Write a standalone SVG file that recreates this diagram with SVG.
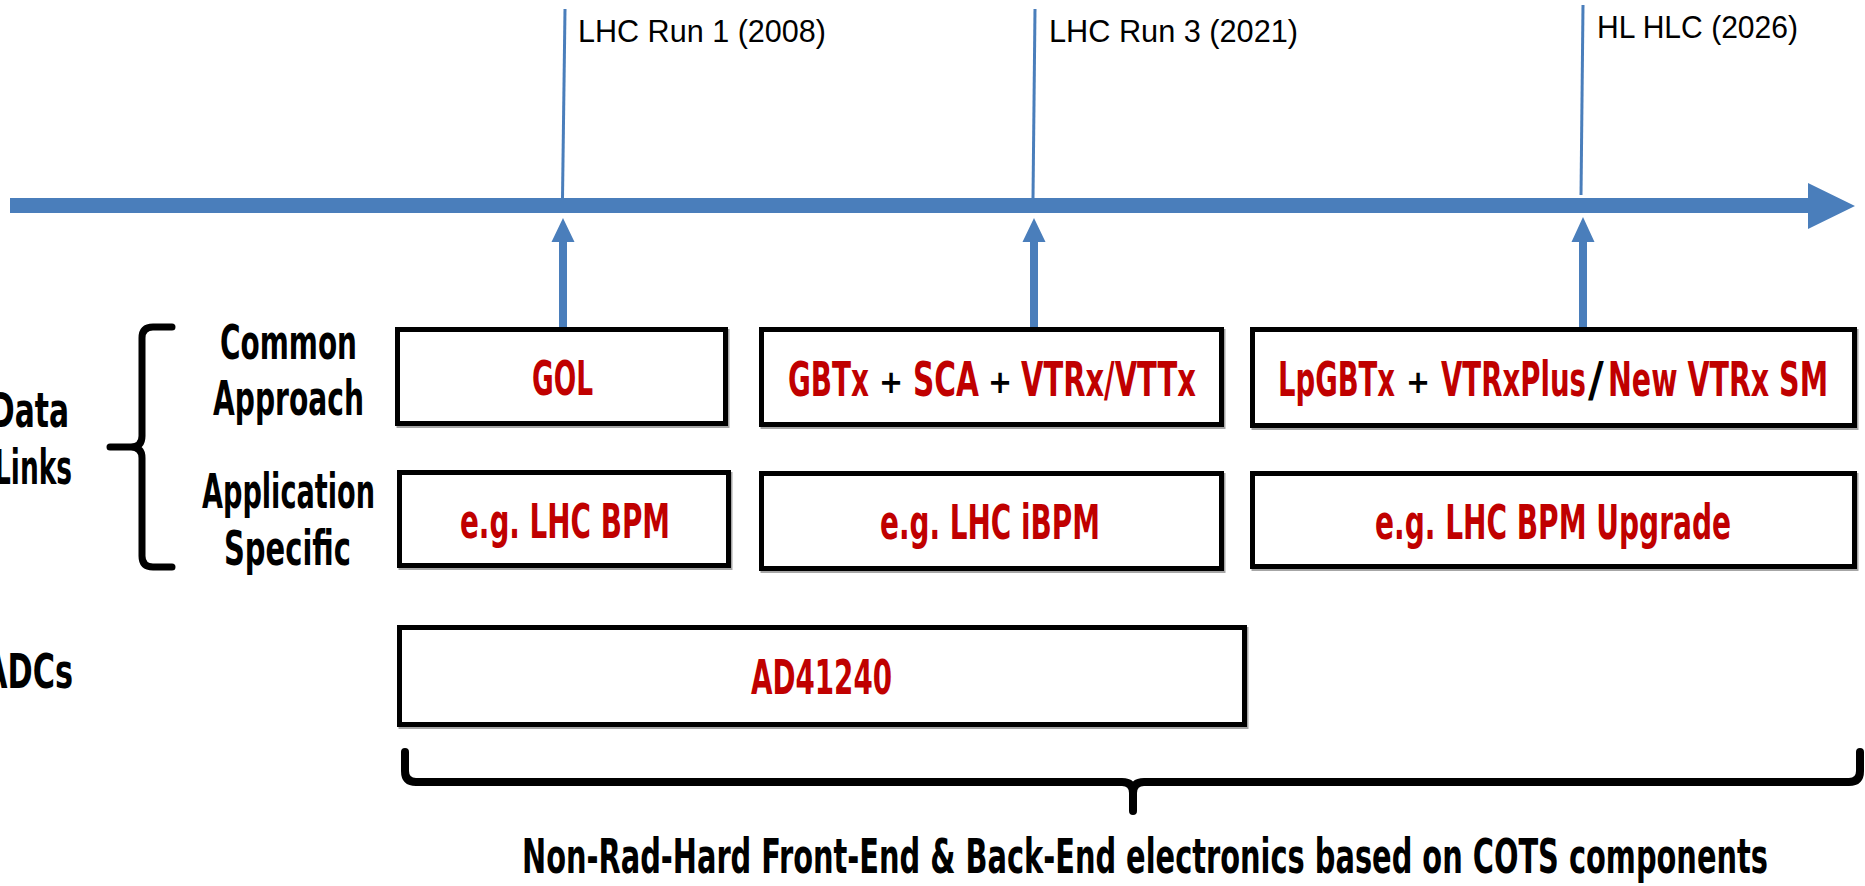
<svg xmlns="http://www.w3.org/2000/svg" width="1865" height="886" viewBox="0 0 1865 886">
<style>
.lab{font-family:"DejaVu Sans Condensed","DejaVu Sans",sans-serif;font-stretch:condensed;font-weight:bold;font-size:48px;fill:#000}
.red{fill:#C00000}
.mid{text-anchor:middle}
.plus{font-size:32px}
.top{font-family:"Liberation Sans","Open Sans",sans-serif;font-size:31px;fill:#000}
.box{fill:#fff;stroke:#000;stroke-width:5}
.shadow{fill:none;stroke:#a6a6a6;stroke-width:5}
.tick{stroke:#4A7EBB;stroke-width:3;fill:none}
.shaft{fill:#4A7EBB}
.brace{fill:none;stroke:#000;stroke-linecap:round;stroke-linejoin:round}
</style>
<rect width="1865" height="886" fill="#fff"/>

<g id="timeline">
  <path d="M10,198 H1808 V183 L1855,206 L1808,229 V213 H10 Z" fill="#4A7EBB"/>
</g>

<g id="connectors">
  <line class="tick" x1="565" y1="9" x2="562.5" y2="198"/>
  <line class="tick" x1="1035" y1="9" x2="1033" y2="198"/>
  <line class="tick" x1="1583" y1="5" x2="1581" y2="195"/>
  <path class="shaft" d="M559,327 V242 H551.5 L563,218 L574.5,242 H567 V327 Z"/>
  <path class="shaft" d="M1030,327 V242 H1022.5 L1034,218 L1045.5,242 H1038 V327 Z"/>
  <path class="shaft" d="M1579,327 V242 H1571.5 L1583,217 L1594.5,242 H1587 V327 Z"/>
</g>

<g id="labels-top">
  <text class="top" x="578" y="42" textLength="248" lengthAdjust="spacingAndGlyphs">LHC Run 1 (2008)</text>
  <text class="top" x="1049" y="42" textLength="249" lengthAdjust="spacingAndGlyphs">LHC Run 3 (2021)</text>
  <text class="top" x="1597" y="38" textLength="201" lengthAdjust="spacingAndGlyphs">HL HLC (2026)</text>
</g>

<g id="side-labels">
  <text class="lab" x="-10" y="427" textLength="79" lengthAdjust="spacingAndGlyphs">Data</text>
  <text class="lab" x="-6" y="484" textLength="78" lengthAdjust="spacingAndGlyphs">Links</text>
  <text class="lab" x="-16" y="688" textLength="89" lengthAdjust="spacingAndGlyphs">ADCs</text>
  <text class="lab" x="220" y="359" textLength="137" lengthAdjust="spacingAndGlyphs">Common</text>
  <text class="lab" x="213" y="415" textLength="151" lengthAdjust="spacingAndGlyphs">Approach</text>
  <text class="lab" x="202" y="508" textLength="173" lengthAdjust="spacingAndGlyphs">Application</text>
  <text class="lab" x="224" y="565" textLength="127" lengthAdjust="spacingAndGlyphs">Specific</text>
</g>

<g id="brace-left">
  <path class="brace" stroke-width="7" d="M172,327 H153 Q142,327 142,338 V436 Q142,447 131,447 H110 M131,447 Q142,447 142,458 V556 Q142,567 153,567 H172"/>
</g>

<g id="box-gol">
  <rect class="shadow" x="399" y="331.5" width="328" height="94"/>
  <rect class="box" x="397.5" y="329.5" width="328" height="94"/>
  <text class="lab red" x="532" y="395" textLength="61" lengthAdjust="spacingAndGlyphs">GOL</text>
</g>

<g id="box-gbtx">
  <rect class="shadow" x="763" y="331.5" width="460" height="95"/>
  <rect class="box" x="761.5" y="329.5" width="460" height="95"/>
  <text class="lab red" x="788" y="396" textLength="81" lengthAdjust="spacingAndGlyphs">GBTx</text>
  <text class="lab plus mid" x="891" y="393">+</text>
  <text class="lab red" x="913" y="396" textLength="66" lengthAdjust="spacingAndGlyphs">SCA</text>
  <text class="lab plus mid" x="1000" y="393">+</text>
  <text class="lab red" x="1021" y="396" textLength="175" lengthAdjust="spacingAndGlyphs">VTRx/VTTx</text>
</g>

<g id="box-lpgbtx">
  <rect class="shadow" x="1254" y="331.5" width="602" height="96"/>
  <rect class="box" x="1252.5" y="329.5" width="602" height="96"/>
  <text class="lab red" x="1278" y="396" textLength="117" lengthAdjust="spacingAndGlyphs">LpGBTx</text>
  <text class="lab plus mid" x="1418" y="393">+</text>
  <text class="lab red" x="1441" y="396" textLength="145" lengthAdjust="spacingAndGlyphs">VTRxPlus</text>
  <text class="lab mid" x="1596" y="396">/</text>
  <text class="lab red" x="1608" y="396" textLength="220" lengthAdjust="spacingAndGlyphs">New VTRx SM</text>
</g>

<g id="box-bpm">
  <rect class="shadow" x="401" y="474.5" width="329" height="93"/>
  <rect class="box" x="399.5" y="472.5" width="329" height="93"/>
  <text class="lab red" x="460" y="538" textLength="210" lengthAdjust="spacingAndGlyphs">e.g. LHC BPM</text>
</g>

<g id="box-ibpm">
  <rect class="shadow" x="763" y="475.5" width="460" height="95"/>
  <rect class="box" x="761.5" y="473.5" width="460" height="95"/>
  <text class="lab red" x="880" y="539" textLength="220" lengthAdjust="spacingAndGlyphs">e.g. LHC iBPM</text>
</g>

<g id="box-upgrade">
  <rect class="shadow" x="1254" y="475.5" width="602" height="93"/>
  <rect class="box" x="1252.5" y="473.5" width="602" height="93"/>
  <text class="lab red" x="1375" y="539" textLength="356" lengthAdjust="spacingAndGlyphs">e.g. LHC BPM Upgrade</text>
</g>

<g id="box-adc">
  <rect class="shadow" x="401" y="629.5" width="845" height="97"/>
  <rect class="box" x="399.5" y="627.5" width="845" height="97"/>
  <text class="lab red" x="751" y="694" textLength="141" lengthAdjust="spacingAndGlyphs">AD41240</text>
</g>

<g id="brace-bottom">
  <path class="brace" stroke-width="8" d="M405,752 V771 Q405,782 416,782 H1122 Q1133,782 1133,793 V811 M1133,793 Q1133,782 1144,782 H1849 Q1860,782 1860,771 V752"/>
  <text class="lab" x="522" y="873" textLength="1246" lengthAdjust="spacingAndGlyphs">Non-Rad-Hard Front-End &amp; Back-End electronics based on COTS components</text>
</g>
</svg>
